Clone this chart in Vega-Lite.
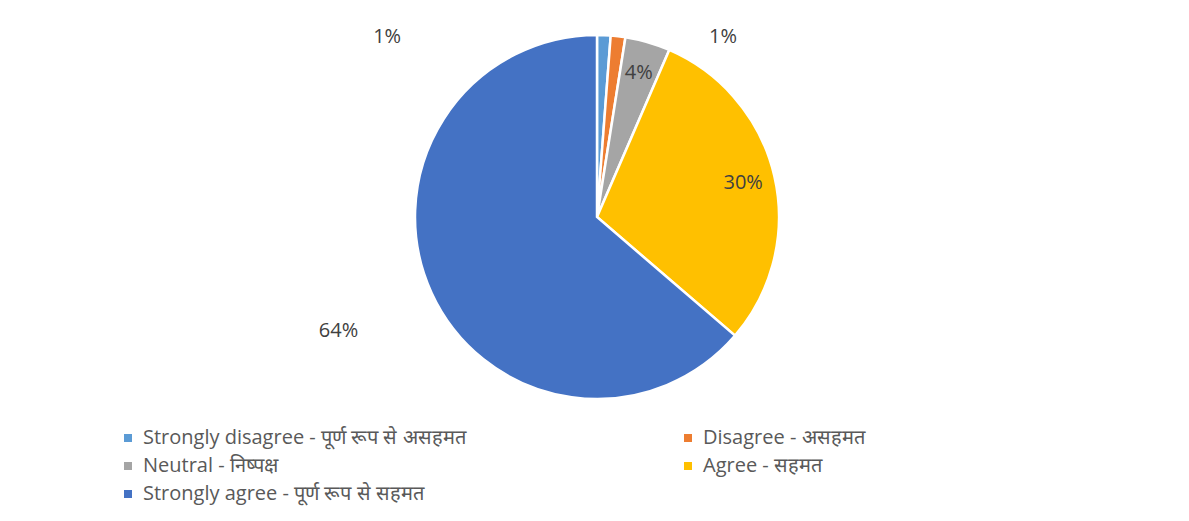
{
  "$schema": "https://vega.github.io/schema/vega-lite/v6.json",
  "width": 1184,
  "height": 416,
  "autosize": {"type": "none"},
  "padding": {"left": 5, "top": 9, "right": 0, "bottom": 96},
  "background": "white",
  "config": {"view": {"stroke": null}},
  "data": {
    "values": [
      {"idx": 1, "category": "Strongly disagree - पूर्ण रूप से असहमत", "share": 0.012},
      {"idx": 2, "category": "Disagree - असहमत", "share": 0.013},
      {"idx": 3, "category": "Neutral - निष्पक्ष", "share": 0.040},
      {"idx": 4, "category": "Agree - सहमत", "share": 0.298},
      {"idx": 5, "category": "Strongly agree - पूर्ण रूप से सहमत", "share": 0.637}
    ]
  },
  "encoding": {
    "theta": {"field": "share", "type": "quantitative", "stack": true},
    "order": {"field": "idx", "type": "quantitative"}
  },
  "layer": [
    {
      "mark": {"type": "arc", "outerRadius": 182, "stroke": "white", "strokeWidth": 2.5},
      "encoding": {
        "color": {
          "field": "category",
          "type": "nominal",
          "sort": null,
          "scale": {
            "domain": [
              "Strongly disagree - पूर्ण रूप से असहमत",
              "Disagree - असहमत",
              "Neutral - निष्पक्ष",
              "Agree - सहमत",
              "Strongly agree - पूर्ण रूप से सहमत"
            ],
            "range": ["#5B9BD5", "#ED7D31", "#A5A5A5", "#FFC000", "#4472C4"]
          },
          "legend": {
            "title": null,
            "orient": "none",
            "direction": "horizontal",
            "legendX": 113,
            "legendY": 419,
            "columns": 2,
            "columnPadding": 212,
            "rowPadding": 8,
            "symbolType": "square",
            "symbolSize": 64,
            "symbolStrokeWidth": 0,
            "labelFont": "Open Sans",
            "labelFontSize": 20,
            "labelColor": "#595959",
            "labelLimit": 0,
            "labelOffset": 5
          }
        }
      }
    },
    {
      "mark": {"type": "text", "radius": 150, "font": "Open Sans", "fontSize": 20, "fill": "#404040"},
      "encoding": {
        "text": {
          "condition": {"test": "datum.idx == 3 || datum.idx == 4", "field": "share", "format": ".0%"},
          "value": ""
        }
      }
    },
    {
      "mark": {"type": "text", "radius": 280, "dx": -4, "dy": -3, "font": "Open Sans", "fontSize": 20, "fill": "#404040"},
      "encoding": {
        "text": {
          "condition": {"test": "datum.idx == 5", "field": "share", "format": ".0%"},
          "value": ""
        }
      }
    },
    {
      "mark": {"type": "text", "radius": 190, "dx": -217, "dy": 10, "font": "Open Sans", "fontSize": 20, "fill": "#404040"},
      "encoding": {
        "text": {
          "condition": {"test": "datum.idx == 1", "field": "share", "format": ".0%"},
          "value": ""
        }
      }
    },
    {
      "mark": {"type": "text", "radius": 190, "dx": 104, "dy": 9, "font": "Open Sans", "fontSize": 20, "fill": "#404040"},
      "encoding": {
        "text": {
          "condition": {"test": "datum.idx == 2", "field": "share", "format": ".0%"},
          "value": ""
        }
      }
    }
  ]
}
